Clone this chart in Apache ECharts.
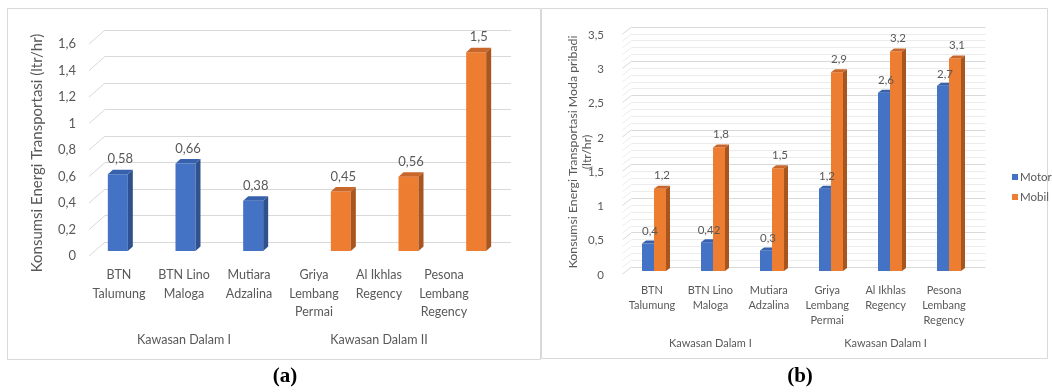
<!DOCTYPE html>
<html>
<head>
<meta charset="utf-8">
<script src="https://cdn.jsdelivr.net/npm/echarts@6/dist/echarts.min.js"></script>
<style>
  html, body { margin: 0; padding: 0; background: #fff; }
  #chart { width: 1052px; height: 392px; }
</style>
</head>
<body>
<div id="chart"></div>
<script>
// ---- data ----
const categories = ['BTN\nTalumung', 'BTN Lino\nMaloga', 'Mutiara\nAdzalina', 'Griya\nLembang\nPermai', 'Al Ikhlas\nRegency', 'Pesona\nLembang\nRegency'];
const groupsLeft = ['Kawasan Dalam I', 'Kawasan Dalam II'];
const groupsRight = ['Kawasan Dalam I', 'Kawasan Dalam I'];

// (a) energy consumption per housing area
const kawasanI = [0.58, 0.66, 0.38, null, null, null];
const kawasanII = [null, null, null, 0.45, 0.56, 1.5];

// (b) private mode consumption
const motor = [0.4, 0.42, 0.3, 1.2, 2.6, 2.7];
const mobil = [1.2, 1.8, 1.5, 2.9, 3.2, 3.1];

const leftTicks = [0, 0.2, 0.4, 0.6, 0.8, 1, 1.2, 1.4, 1.6];
const rightTicks = [0, 0.5, 1, 1.5, 2, 2.5, 3, 3.5];

// ---- styling ----
const FONT = 'Lato, "Open Sans", sans-serif';
const TXT = '#595959';
const GRID = '#d9d9d9';
const BLUE = { front: '#4472C4', side: '#2F528F', top: '#3761AC' };
const ORANGE = { front: '#ED7D31', side: '#A9551E', top: '#C9662A' };

const fmt = v => String(Number((+v).toFixed(2))).replace('.', ',');
const toData = arr => arr.map((v, i) => [i, v]).filter(d => d[1] !== null);

// 3D-looking bar: front face, darker side face and top face (and optionally the value)
function bar3d(slot, barW, depth, colors, withLabel, labelFont, labelGap) {
  return function (params, api) {
    const idx = api.value(0), val = api.value(1);
    const top = api.coord([idx, val]);
    const base = api.coord([idx, 0]);
    const x = top[0] - barW + slot * barW;
    const yT = top[1], yB = base[1];
    const dx = depth[0], dy = depth[1];
    const children = [
      { type: 'rect', shape: { x: x, y: yT, width: barW, height: yB - yT }, style: { fill: colors.front } },
      { type: 'polygon', shape: { points: [[x + barW, yT], [x + barW + dx, yT + dy], [x + barW + dx, yB + dy], [x + barW, yB]] }, style: { fill: colors.side } },
      { type: 'polygon', shape: { points: [[x, yT], [x + dx, yT + dy], [x + barW + dx, yT + dy], [x + barW, yT]] }, style: { fill: colors.top } }
    ];
    if (withLabel) children.push(valueText(x + barW / 2 + dx / 2, yT - labelGap, val, labelFont));
    return { type: 'group', children: children };
  };
}

function valueText(x, y, val, size) {
  return { type: 'text', z2: 10, style: { text: fmt(val), x: x, y: y, align: 'center', verticalAlign: 'middle', fill: TXT, fontSize: size, fontFamily: FONT } };
}

// value labels drawn above every bar of the clustered chart
function barLabel(slot, barW, depth, labelFont, labelGap) {
  return function (params, api) {
    const idx = api.value(0), val = api.value(1);
    const top = api.coord([idx, val]);
    const x = top[0] - barW + slot * barW;
    return valueText(x + barW / 2 + depth[0] / 2, top[1] - labelGap, val, labelFont);
  };
}

// slanted connectors from the axis labels to the back wall gridlines
function diagonals(dx, dy, color, minorStep, lastTick) {
  return function (params, api) {
    const t = api.value(1);
    const x = params.coordSys.x;
    const levels = [t];
    if (minorStep && t < lastTick) {
      for (let k = 1; k < 5; k++) levels.push(t + k * minorStep);
    }
    return {
      type: 'group',
      children: levels.map((lv, k) => {
        const y = api.coord([0, lv])[1];
        return { type: 'line', shape: { x1: x - dx, y1: y + dy, x2: x, y2: y }, style: { stroke: k === 0 ? color : '#ececec', lineWidth: 1 } };
      })
    };
  };
}

const hiddenCat = gi => ({ type: 'category', gridIndex: gi, data: categories, show: false, boundaryGap: true });
const hiddenVal = (gi, max, interval, extra) => Object.assign({ type: 'value', gridIndex: gi, min: 0, max: max, interval: interval, axisLabel: { show: false }, axisLine: { show: false }, axisTick: { show: false }, splitLine: { show: false } }, extra || {});

const option = {
  animation: false,
  backgroundColor: '#fff',
  textStyle: { fontFamily: FONT },
  grid: [
    { left: 86.5, width: 390, top: 44, bottom: 136 },     // (a) front labels
    { left: 94, width: 406, top: 39, bottom: 141 },       // (a) bars
    { left: 105, width: 406, top: 30, bottom: 150 },      // (a) back wall
    { left: 622.8, width: 350.4, top: 35, bottom: 117 },  // (b) front labels
    { left: 624.5, width: 354, top: 31, bottom: 121 },    // (b) bars
    { left: 631.5, width: 354, top: 27, bottom: 125 }     // (b) back wall
  ],
  xAxis: [
    { type: 'category', gridIndex: 0, data: categories, axisLine: { show: false }, axisTick: { show: false },
      axisLabel: { color: TXT, fontSize: 12.5, lineHeight: 18.5, margin: 10, interval: 0, fontFamily: FONT } },
    { type: 'category', gridIndex: 0, data: groupsLeft, position: 'bottom', axisLine: { show: false }, axisTick: { show: false },
      axisLabel: { color: TXT, fontSize: 12.5, lineHeight: 13, margin: 77, interval: 0, fontFamily: FONT } },
    hiddenCat(1),
    hiddenCat(2),
    { type: 'category', gridIndex: 3, data: categories, axisLine: { show: false }, axisTick: { show: false },
      axisLabel: { color: TXT, fontSize: 11, lineHeight: 15, margin: 7.5, interval: 0, fontFamily: FONT } },
    { type: 'category', gridIndex: 3, data: groupsRight, position: 'bottom', axisLine: { show: false }, axisTick: { show: false },
      axisLabel: { color: TXT, fontSize: 11, lineHeight: 12, margin: 62, interval: 0, fontFamily: FONT } },
    hiddenCat(4),
    hiddenCat(5)
  ],
  yAxis: [
    { type: 'value', gridIndex: 0, min: 0, max: 1.6, interval: 0.2, axisLine: { show: false }, axisTick: { show: false }, splitLine: { show: false },
      axisLabel: { color: TXT, fontSize: 13, margin: 10.5, fontFamily: FONT, formatter: fmt } },
    hiddenVal(1, 1.6, 0.2),
    hiddenVal(2, 1.6, 0.2, { splitLine: { show: true, lineStyle: { color: GRID, width: 1 } } }),
    { type: 'value', gridIndex: 3, min: 0, max: 3.5, interval: 0.5, axisLine: { show: false }, axisTick: { show: false }, splitLine: { show: false },
      axisLabel: { color: TXT, fontSize: 11.5, margin: 18.8, fontFamily: FONT, formatter: fmt } },
    hiddenVal(4, 3.5, 0.5),
    hiddenVal(5, 3.5, 0.5, {
      splitLine: { show: true, lineStyle: { color: GRID, width: 1 } },
      minorTick: { show: false, splitNumber: 5 },
      minorSplitLine: { show: true, lineStyle: { color: '#ececec', width: 1 } }
    })
  ],
  legend: {
    data: ['Motor', 'Mobil'], orient: 'vertical', left: 1007, top: 166,
    itemWidth: 6, itemHeight: 6, itemGap: 8, icon: 'rect',
    textStyle: { color: TXT, fontSize: 11.5, fontFamily: FONT, padding: [0, 0, 0, -3] }
  },
  series: [
    { type: 'custom', name: 'grid-a', xAxisIndex: 3, yAxisIndex: 2, silent: true, z: 1,
      data: leftTicks.map(t => [0, t]), renderItem: diagonals(16, 14, GRID) },
    { type: 'custom', name: 'Kawasan Dalam I', xAxisIndex: 2, yAxisIndex: 1, z: 3, itemStyle: { color: BLUE.front },
      data: toData(kawasanI), renderItem: bar3d(0, 20, [5, -4.5], BLUE, true, 13, 15) },
    { type: 'custom', name: 'Kawasan Dalam II', xAxisIndex: 2, yAxisIndex: 1, z: 3, itemStyle: { color: ORANGE.front },
      data: toData(kawasanII), renderItem: bar3d(1, 20, [5, -4.5], ORANGE, true, 13, 15) },
    { type: 'custom', name: 'grid-b', xAxisIndex: 7, yAxisIndex: 5, silent: true, z: 1,
      data: rightTicks.map(t => [0, t]), renderItem: diagonals(9, 7, GRID, 0.1, 3.5) },
    { type: 'custom', name: 'Motor', xAxisIndex: 6, yAxisIndex: 4, z: 3, itemStyle: { color: BLUE.front },
      data: toData(motor), renderItem: bar3d(0, 12, [4, -3], BLUE, false) },
    { type: 'custom', name: 'Mobil', xAxisIndex: 6, yAxisIndex: 4, z: 4, itemStyle: { color: ORANGE.front },
      data: toData(mobil), renderItem: bar3d(1, 12, [4, -3], ORANGE, false) },
    { type: 'custom', name: 'Motor', xAxisIndex: 6, yAxisIndex: 4, z: 6, silent: true, itemStyle: { color: BLUE.front },
      data: toData(motor), renderItem: barLabel(0, 12, [4, -3], 11.5, 12) },
    { type: 'custom', name: 'Mobil', xAxisIndex: 6, yAxisIndex: 4, z: 6, silent: true, itemStyle: { color: ORANGE.front },
      data: toData(mobil), renderItem: barLabel(1, 12, [4, -3], 11.5, 13) }
  ],
  graphic: [
    { type: 'rect', shape: { x: 7.5, y: 8.5, width: 533, height: 351 }, style: { fill: null, stroke: GRID, lineWidth: 1 }, silent: true },
    { type: 'rect', shape: { x: 541.5, y: 8.5, width: 506, height: 350 }, style: { fill: null, stroke: GRID, lineWidth: 1 }, silent: true },
    { type: 'text', x: 37, y: 153, rotation: Math.PI / 2,
      style: { text: 'Konsumsi Energi Transportasi (ltr/hr)', fill: TXT, fontSize: 15, fontFamily: FONT, align: 'center', verticalAlign: 'middle' } },
    { type: 'text', x: 580, y: 152, rotation: Math.PI / 2,
      style: { text: 'Konsumsi Energi Transportasi Moda pribadi\n(ltr/hr)', fill: TXT, fontSize: 12.3, lineHeight: 14, fontFamily: FONT, align: 'center', verticalAlign: 'middle' } },
    { type: 'text', x: 285, y: 377,
      style: { text: '(a)', fill: '#000', fontSize: 21, fontWeight: 'bold', fontFamily: '"Liberation Serif", "DejaVu Serif", serif', align: 'center', verticalAlign: 'middle' } },
    { type: 'text', x: 800, y: 377,
      style: { text: '(b)', fill: '#000', fontSize: 21, fontWeight: 'bold', fontFamily: '"Liberation Serif", "DejaVu Serif", serif', align: 'center', verticalAlign: 'middle' } }
  ]
};

const chart = echarts.init(document.getElementById('chart'), null, { renderer: 'canvas' });
chart.setOption(option);
</script>
</body>
</html>
